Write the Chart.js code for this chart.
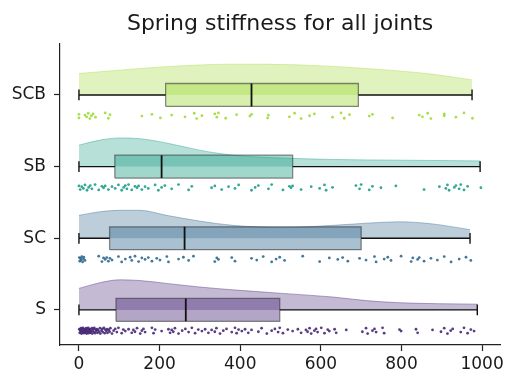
<!DOCTYPE html>
<html>
<head>
<meta charset="utf-8">
<script src="https://cdn.jsdelivr.net/npm/chart.js@4"></script>
<style>
  html, body { margin: 0; padding: 0; background: #fff; }
  #wrap { width: 507px; height: 375px; position: relative; }
</style>
</head>
<body>
<div id="wrap"><canvas id="rainChart"></canvas></div>
<script>
// categories bottom to top
const joints = ['S', 'SC', 'SB', 'SCB'];
const jointColors = [[72, 40, 120], [49, 104, 142], [31, 158, 137], [160, 218, 57]];

// box stats [min, q1, median, q3, max]
const boxS = [0, 92, 265, 498, 988];
const boxSC = [0, 76, 262, 700, 970];
const boxSB = [0, 89, 205, 530, 995];
const boxSCB = [0, 215, 428, 693, 975];

// half violin outline (x, height above the category line)
const cloudXS = [0, 52, 101, 151, 217, 299, 382, 505, 630, 712, 795, 988];
const cloudS = [0.30, 0.38, 0.42, 0.41, 0.37, 0.32, 0.28, 0.23, 0.18, 0.13, 0.10, 0.08];
const cloudXSC = [0, 52, 101, 151, 217, 299, 382, 505, 630, 712, 795, 877, 970];
const cloudSC = [0.32, 0.37, 0.39, 0.39, 0.32, 0.24, 0.18, 0.15, 0.18, 0.21, 0.23, 0.20, 0.12];
const cloudXSB = [0, 52, 101, 151, 217, 299, 382, 505, 630, 795, 995];
const cloudSB = [0.30, 0.37, 0.40, 0.39, 0.33, 0.23, 0.16, 0.12, 0.10, 0.09, 0.08];
const cloudXSCB = [0, 217, 382, 547, 712, 877, 975];
const cloudSCB = [0.30, 0.395, 0.43, 0.42, 0.37, 0.29, 0.21];

// raw observations (rain)
const rainS = [1, 2, 3, 4, 5, 6, 7, 8, 9, 10, 11, 12, 13, 14, 15, 16, 17, 18, 19, 20, 21, 22, 23, 24, 25, 26, 27, 28, 29, 30,
  32, 33, 34, 36, 37, 38, 40, 41, 43, 44, 46, 47, 50, 52, 53, 56, 58, 59, 62, 64, 65, 68, 70, 71, 74, 76, 78, 82,
  86, 90, 94, 98, 106, 110, 115, 123, 131, 135, 139, 144, 152, 156, 160, 164, 181, 185, 189, 205, 222, 226, 230, 234, 238,
  247, 256, 264, 272, 280, 288, 296, 305, 313, 321, 329, 337, 341, 350, 358, 366, 379, 387, 391, 396, 404, 412, 420, 428,
  445, 453, 466, 478, 486, 494, 498, 506, 518, 530, 543, 551, 563, 567, 572, 576, 584, 588, 592, 601, 609, 617, 621, 634,
  638, 663, 703, 712, 716, 728, 733, 737, 753, 757, 795, 799, 836, 840, 877, 898, 906, 914, 922, 927, 947, 955, 964, 972, 980];
const rainSC = [1, 2, 4, 5, 7, 9, 11, 12, 15, 49, 57, 61, 65, 69, 73, 77, 82, 98, 106, 115, 127, 131, 139, 148, 156, 164, 172,
  181, 193, 201, 218, 222, 247, 259, 272, 284, 337, 342, 346, 379, 387, 428, 441, 457, 478, 489, 498, 510, 555, 597, 621,
  642, 654, 667, 696, 712, 733, 737, 757, 766, 774, 799, 824, 828, 840, 844, 856, 873, 889, 906, 923, 943, 960, 972];
const rainSB = [0, 3, 7, 11, 15, 20, 24, 28, 32, 40, 49, 57, 61, 65, 73, 82, 90, 98, 106, 111, 115, 119, 123, 131, 139, 144,
  148, 156, 164, 172, 189, 197, 205, 213, 230, 247, 272, 280, 329, 337, 354, 371, 387, 396, 428, 437, 445, 470, 478, 506,
  522, 526, 530, 551, 576, 597, 609, 613, 629, 687, 696, 700, 720, 728, 749, 786, 856, 894, 910, 914, 918, 931, 935, 943,
  947, 955, 964, 997];
const rainSCB = [0, 0, 15, 19, 23, 27, 31, 35, 41, 65, 73, 77, 156, 181, 202, 230, 263, 286, 292, 305, 337, 342, 346, 364,
  391, 424, 428, 468, 470, 522, 535, 551, 572, 584, 629, 650, 658, 671, 720, 728, 778, 844, 852, 865, 873, 906, 906, 935,
  955, 976];

const jitterOffsets = [0.02, -0.03, 0.01, -0.015, 0.035, -0.04, 0.0, 0.025, -0.02, 0.04, -0.035, 0.015, -0.005];

const xTicks = [0, 200, 400, 600, 800, 1000];

const boxes = [boxS, boxSC, boxSB, boxSCB];
const cloudXs = [cloudXS, cloudXSC, cloudXSB, cloudXSCB];
const clouds = [cloudS, cloudSC, cloudSB, cloudSCB];
const rains = [rainS, rainSC, rainSB, rainSCB];

const rgba = (c, a) => `rgba(${c[0]}, ${c[1]}, ${c[2]}, ${a})`;
const boxHalf = 0.16;
const capHalf = 0.075;
const rainShift = -0.29;

const datasets = [];
joints.forEach((name, i) => {
  const col = jointColors[i];
  const [lo, q1, med, q3, hi] = boxes[i];

  datasets.push({
    type: 'line',
    label: name + ' cloud',
    data: cloudXs[i].map((x, k) => ({ x, y: i + clouds[i][k] })),
    fill: { value: i },
    backgroundColor: rgba(col, 0.32),
    borderColor: rgba(col, 0.4),
    borderWidth: 1,
    pointRadius: 0,
    cubicInterpolationMode: 'monotone',
    order: 5
  });

  datasets.push({
    type: 'line',
    label: name + ' box',
    data: [{ x: q1, y: i + boxHalf }, { x: q3, y: i + boxHalf }],
    fill: { value: i - boxHalf },
    backgroundColor: rgba(col, 0.42),
    borderWidth: 0,
    pointRadius: 0,
    order: 4
  });

  datasets.push({
    type: 'line',
    label: name + ' box edge',
    data: [
      { x: q1, y: i - boxHalf }, { x: q1, y: i + boxHalf }, { x: q3, y: i + boxHalf },
      { x: q3, y: i - boxHalf }, { x: q1, y: i - boxHalf }
    ],
    fill: false,
    borderColor: 'rgba(40, 40, 40, 0.55)',
    borderWidth: 1.3,
    pointRadius: 0,
    order: 3
  });

  datasets.push({
    type: 'line',
    label: name + ' whiskers',
    data: [
      { x: lo, y: i - capHalf }, { x: lo, y: i + capHalf }, { x: lo, y: null },
      { x: lo, y: i }, { x: q1, y: i }, { x: q1, y: null },
      { x: q3, y: i }, { x: hi, y: i }, { x: hi, y: null },
      { x: hi, y: i - capHalf }, { x: hi, y: i + capHalf }
    ],
    spanGaps: false,
    fill: false,
    borderColor: '#111',
    borderWidth: 1.4,
    pointRadius: 0,
    order: 2
  });

  datasets.push({
    type: 'line',
    label: name + ' median',
    data: [{ x: med, y: i - boxHalf }, { x: med, y: i + boxHalf }],
    fill: false,
    borderColor: '#111',
    borderWidth: 1.8,
    pointRadius: 0,
    order: 1
  });

  datasets.push({
    type: 'scatter',
    label: name + ' rain',
    data: rains[i].map((x, k) => ({ x, y: i + rainShift + jitterOffsets[k % jitterOffsets.length] })),
    backgroundColor: rgba(col, 0.9),
    borderWidth: 0,
    pointRadius: 1.4,
    order: 0
  });
});

const tickFont = { family: 'DejaVu Sans', size: 17 };

// centre the title over the plotting area, as matplotlib does
const titleOverPlot = {
  id: 'titleOverPlot',
  afterLayout(chart) {
    const t = chart.titleBlock;
    if (!t) return;
    t.left = chart.chartArea.left;
    t.right = chart.chartArea.right;
    t.width = t.right - t.left;
  }
};

new Chart(document.getElementById('rainChart'), {
  type: 'scatter',
  data: { datasets },
  plugins: [titleOverPlot],
  options: {
    responsive: true,
    maintainAspectRatio: false,
    animation: false,
    events: [],
    layout: { padding: { left: 0, right: 6, top: 0, bottom: 0 } },
    plugins: {
      legend: { display: false },
      tooltip: { enabled: false },
      title: {
        display: true,
        text: 'Spring stiffness for all joints',
        color: '#1a1a1a',
        font: { family: 'DejaVu Sans', size: 22, weight: 'normal' },
        padding: { top: 11, bottom: 6 }
      }
    },
    scales: {
      x: {
        type: 'linear',
        min: -47,
        max: 1045,
        afterBuildTicks: (axis) => { axis.ticks = xTicks.map((v) => ({ value: v })); },
        afterFit: (axis) => { axis.height = 30; },
        ticks: { color: '#1a1a1a', font: tickFont, padding: 3, maxRotation: 0, callback: (v) => String(v) },
        grid: { drawOnChartArea: false, drawTicks: true, tickLength: 6, color: '#222', tickWidth: 1.2 },
        border: { display: true, color: '#222', width: 1.2 }
      },
      y: {
        type: 'linear',
        min: -0.49,
        max: 3.72,
        afterBuildTicks: (axis) => { axis.ticks = joints.map((n, i) => ({ value: i })); },
        afterFit: (axis) => { axis.width = 60; },
        ticks: { color: '#1a1a1a', font: tickFont, padding: 8, callback: (v) => joints[v] },
        grid: { drawOnChartArea: false, drawTicks: true, tickLength: 6, color: '#222', tickWidth: 1.2 },
        border: { display: true, color: '#222', width: 1.2 }
      }
    }
  }
});
</script>
</body>
</html>
